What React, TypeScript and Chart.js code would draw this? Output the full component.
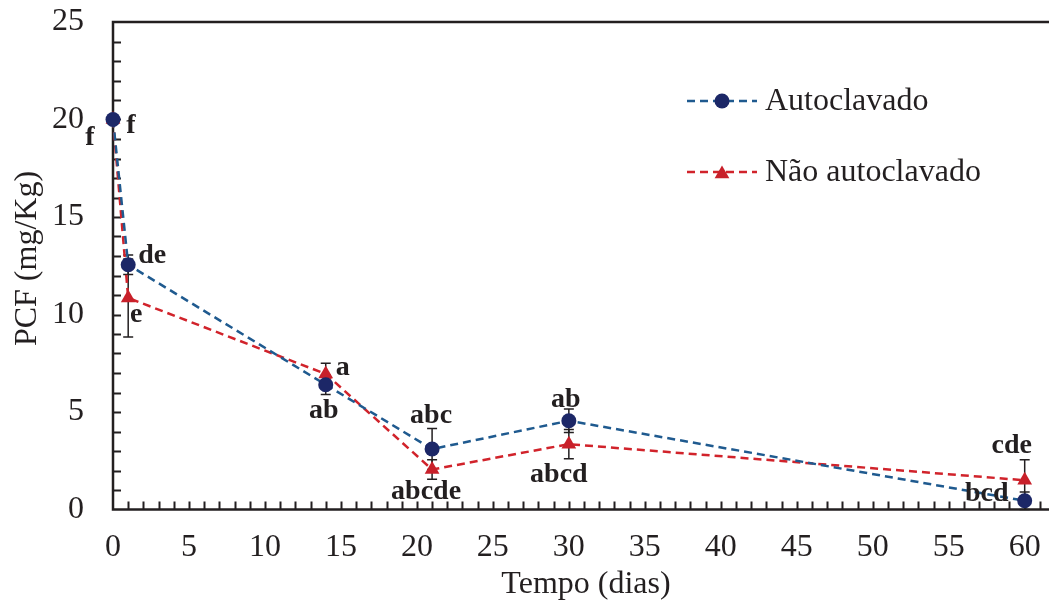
import { useEffect, useRef } from 'react';
import { Chart, registerables } from 'chart.js';

Chart.register(...registerables);

// ---- data ----
const days = [0, 1, 14, 21, 30, 60];
const seriesNames = ['Autoclavado', 'Não autoclavado'];
const autoclavado = [20.0, 12.55, 6.4, 3.1, 4.55, 0.45];
const autoclavadoErr = [0, 0.5, 0.5, 1.05, 0.6, 0.45];
const naoAutoclavado = [20.0, 10.85, 6.95, 2.05, 3.35, 1.5];
const naoAutoclavadoErr = [0, 2.0, 0.55, 0.5, 0.75, 1.05];
const autoclavadoLetters = ['f', 'de', 'ab', 'abc', 'ab', 'bcd'];
const naoAutoclavadoLetters = ['f', 'e', 'a', 'abcde', 'abcd', 'cde'];
const xTickLabels = ['0', '5', '10', '15', '20', '25', '30', '35', '40', '45', '50', '55', '60'];
const yTickLabels = ['0', '5', '10', '15', '20', '25'];
const xTitle = 'Tempo (dias)';
const yTitle = 'PCF (mg/Kg)';

// ---- styling (pixel offsets of the letter annotations relative to their point) ----
const autoLetterOffsets = [[18, 13.5], [24, -2], [-2, 33], [-1, -26], [-3, -14], [-38, 0]];
const naoLetterOffsets = [[-23, 25.5], [8, 24], [17, 1], [-6, 29], [-10, 38], [-13, -27]];

const SERIF = '"Liberation Serif", "Times New Roman", serif';
const INK = '#231f20';
const BLUE_LINE = '#1f5a8f';
const BLUE_MARK = '#1c2767';
const RED_LINE = '#d1232b';
const RED_MARK = '#c8202a';

function drawTriangle(ctx: CanvasRenderingContext2D, x: number, y: number, r: number) {
  let rad = 0;
  ctx.beginPath();
  ctx.moveTo(x + Math.sin(rad) * r, y - Math.cos(rad) * r);
  rad += (2 * Math.PI) / 3;
  ctx.lineTo(x + Math.sin(rad) * r, y - Math.cos(rad) * r);
  rad += (2 * Math.PI) / 3;
  ctx.lineTo(x + Math.sin(rad) * r, y - Math.cos(rad) * r);
  ctx.closePath();
  ctx.fill();
}

function zeroPadding(s: any) {
  s.paddingTop = 0;
  s.paddingBottom = 0;
  s.paddingLeft = 0;
  s.paddingRight = 0;
}

export default function App() {
  const ref = useRef<HTMLCanvasElement>(null);

  useEffect(() => {
    const canvas = ref.current!;
    const errs = [autoclavadoErr, naoAutoclavadoErr];
    const letters = [autoclavadoLetters, naoAutoclavadoLetters];
    const offsets = [autoLetterOffsets, naoLetterOffsets];

    const custom = {
      id: 'custom',
      beforeDatasetsDraw(chart: any) {
        const { ctx, chartArea: a, scales } = chart;
        const x = scales.x;
        const y = scales.y;
        ctx.save();
        ctx.strokeStyle = INK;
        ctx.lineWidth = 2.5;
        ctx.beginPath();
        ctx.moveTo(a.left - 1.25, a.top);
        ctx.lineTo(a.right, a.top);
        ctx.moveTo(a.left, a.top);
        ctx.lineTo(a.left, a.bottom);
        ctx.moveTo(a.left - 1.25, a.bottom);
        ctx.lineTo(a.right, a.bottom);
        ctx.stroke();
        ctx.lineWidth = 2;
        ctx.beginPath();
        for (const t of x.ticks) {
          if (t.value === 0) continue;
          const px = Math.round(x.getPixelForValue(t.value)) + 0.5;
          ctx.moveTo(px, a.bottom);
          ctx.lineTo(px, a.bottom - 8);
        }
        for (const t of y.ticks) {
          if (t.value === 0 || t.value === 25) continue;
          const py = Math.round(y.getPixelForValue(t.value)) + 0.5;
          ctx.moveTo(a.left, py);
          ctx.lineTo(a.left + 8, py);
        }
        ctx.stroke();

        // error bars
        ctx.lineWidth = 1.5;
        chart.data.datasets.forEach((ds: any, di: number) => {
          ds.data.forEach((p: any, i: number) => {
            const e = errs[di][i];
            if (!e) return;
            const px = x.getPixelForValue(p.x);
            const y1 = y.getPixelForValue(p.y - e);
            const y2 = y.getPixelForValue(p.y + e);
            ctx.beginPath();
            ctx.moveTo(px, y1);
            ctx.lineTo(px, y2);
            ctx.moveTo(px - 5, y1);
            ctx.lineTo(px + 5, y1);
            ctx.moveTo(px - 5, y2);
            ctx.lineTo(px + 5, y2);
            ctx.stroke();
          });
        });
        ctx.restore();
      },
      afterDatasetsDraw(chart: any) {
        const { ctx, scales } = chart;
        const x = scales.x;
        const y = scales.y;
        ctx.save();
        // letters
        ctx.fillStyle = INK;
        ctx.font = `bold 28px ${SERIF}`;
        ctx.textAlign = 'center';
        ctx.textBaseline = 'alphabetic';
        chart.data.datasets.forEach((ds: any, di: number) => {
          ds.data.forEach((p: any, i: number) => {
            const px = x.getPixelForValue(p.x) + offsets[di][i][0];
            const py = y.getPixelForValue(p.y) + offsets[di][i][1];
            ctx.fillText(letters[di][i], px, py);
          });
        });

        // legend
        const legendY = [101, 172];
        const lineCols = [BLUE_LINE, RED_LINE];
        const markCols = [BLUE_MARK, RED_MARK];
        seriesNames.forEach((name, i) => {
          const ly = legendY[i];
          ctx.strokeStyle = lineCols[i];
          ctx.lineWidth = 2.5;
          ctx.setLineDash([8, 5]);
          ctx.beginPath();
          ctx.moveTo(687, ly);
          ctx.lineTo(757, ly);
          ctx.stroke();
          ctx.setLineDash([]);
          ctx.fillStyle = markCols[i];
          if (i === 0) {
            ctx.beginPath();
            ctx.arc(722, ly, 7.5, 0, Math.PI * 2);
            ctx.fill();
          } else {
            drawTriangle(ctx, 722, ly + 2, 8.5);
          }
          ctx.fillStyle = INK;
          ctx.font = `32px ${SERIF}`;
          ctx.textAlign = 'left';
          ctx.textBaseline = 'alphabetic';
          ctx.fillText(name, 765, ly + 8.5);
        });

        // axis titles
        ctx.font = `32px ${SERIF}`;
        ctx.textAlign = 'center';
        ctx.textBaseline = 'alphabetic';
        ctx.fillText(xTitle, 586, 593);
        ctx.save();
        ctx.translate(36, 258.5);
        ctx.rotate(-Math.PI / 2);
        ctx.fillText(yTitle, 0, 0);
        ctx.restore();
        ctx.restore();
      },
    };

    const chart = new Chart(canvas, {
      type: 'line',
      data: {
        datasets: [
          {
            label: seriesNames[0],
            data: days.map((d, i) => ({ x: d, y: autoclavado[i] })),
            borderColor: BLUE_LINE,
            borderWidth: 2.5,
            borderDash: [8, 5],
            pointStyle: 'circle',
            pointRadius: 7.5,
            pointBackgroundColor: BLUE_MARK,
            pointBorderColor: BLUE_MARK,
            pointBorderWidth: 0,
            tension: 0,
            clip: false as any,
          },
          {
            label: seriesNames[1],
            data: days.map((d, i) => ({ x: d, y: naoAutoclavado[i] })),
            borderColor: RED_LINE,
            borderWidth: 2.5,
            borderDash: [8, 5],
            pointStyle: 'triangle',
            pointRadius: 8.5,
            pointBackgroundColor: RED_MARK,
            pointBorderColor: RED_MARK,
            pointBorderWidth: 0,
            tension: 0,
            clip: false as any,
          },
        ],
      },
      options: {
        responsive: false,
        animation: false,
        layout: { autoPadding: false, padding: { top: 22, right: 0, left: 0, bottom: 0 } },
        plugins: {
          legend: { display: false },
          tooltip: { enabled: false },
        },
        scales: {
          x: {
            type: 'linear',
            min: 0,
            max: 61.6,
            grid: { display: false, drawTicks: false },
            border: { display: false },
            afterBuildTicks: (s: any) => {
              const t: any[] = [];
              for (let i = 0; i <= 61; i++) t.push({ value: i });
              s.ticks = t;
            },
            afterFit: (s: any) => {
              s.height = 93.5;
              zeroPadding(s);
            },
            ticks: {
              autoSkip: false,
              maxRotation: 0,
              minRotation: 0,
              padding: 19,
              color: INK,
              font: { family: SERIF, size: 32 },
              callback: (v: any) => (xTickLabels.includes(String(v)) ? String(v) : ''),
            },
          },
          y: {
            type: 'linear',
            min: 0,
            max: 25,
            grid: { display: false, drawTicks: false },
            border: { display: false },
            afterFit: (s: any) => {
              s.width = 113;
              zeroPadding(s);
            },
            ticks: {
              stepSize: 1,
              autoSkip: false,
              padding: 29,
              color: INK,
              font: { family: SERIF, size: 32 },
              callback: (v: any) => (yTickLabels.includes(String(v)) ? String(v) : ''),
            },
          },
        },
      },
      plugins: [custom],
    });
    return () => chart.destroy();
  }, []);

  return (
    <div style={{ position: 'fixed', left: 0, top: 0, width: 1049, height: 603, background: '#fff' }}>
      <canvas ref={ref} width={1049} height={603} />
    </div>
  );
}
